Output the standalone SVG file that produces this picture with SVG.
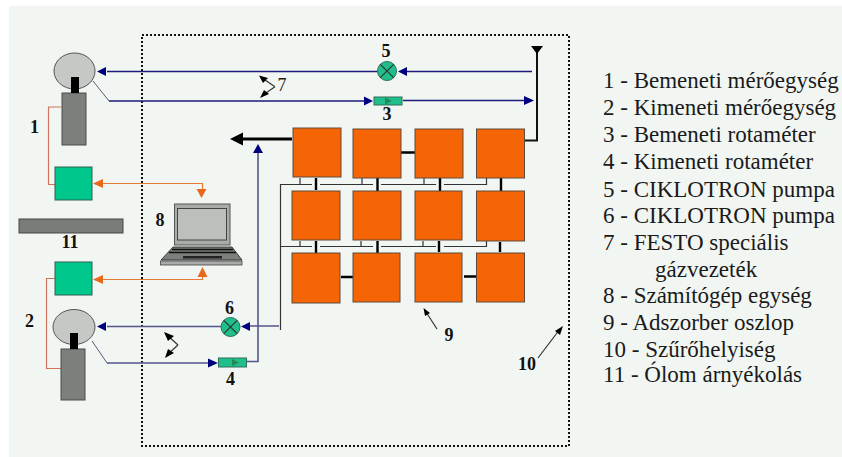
<svg xmlns="http://www.w3.org/2000/svg" width="842" height="457" viewBox="0 0 842 457">
<style>
text{font-family:"Liberation Serif","Times New Roman",serif;fill:#1a1a1a}
.n{font-size:18px;font-weight:bold;text-anchor:middle;fill:#111}
.l{font-size:23px}
.or{fill:#f56505;stroke:#5e4a3c;stroke-width:1}
.gr{fill:#00c88c;stroke:#2f5f50;stroke-width:1}
.pu{fill:#1fbf8c;stroke:#2f6f5a;stroke-width:1}
.bl{fill:none;stroke:#1c1c78;stroke-width:1.3}
.bl2{fill:none;stroke:#55558c;stroke-width:1.6}
.dg{fill:none;stroke:#5a5a78;stroke-width:1}
.og{fill:none;stroke:#e87a35;stroke-width:1.2}
.rd{fill:none;stroke:#d0755a;stroke-width:1.2}
.k{fill:none;stroke:#000;stroke-width:2.4}
.th{fill:none;stroke:#333;stroke-width:1.2}
.bh{fill:#00007e}
.oh{fill:#e8691e}
.kh{fill:#000}
.body{fill:#7d7f7d;stroke:#4a4a4a;stroke-width:1}
.blob{fill:#c6c8c6;stroke:#555;stroke-width:1}
</style>
<rect width="842" height="457" fill="#ffffff"/>
<rect x="9" y="6" width="833" height="451" fill="#f2f6f3"/>
<rect id="room" x="142" y="35" width="427" height="411" fill="none" stroke="#111" stroke-width="2" stroke-dasharray="2 2"/>
<g id="connectors">
<path class="bl" d="M107 71.500H378M402 71.500H532"/>
<path class="dg" d="M93 81L109 101"/>
<path class="bl" d="M109 101H366M403 100.500H526"/>
<path d="M537 50V140.500H524" fill="none" stroke="#111" stroke-width="2"/>
<path class="bl2" d="M258 150V361.500H247M107 326.500H221M250 326H279"/>
<path class="dg" d="M92 341L107 363"/>
<path class="bl2" d="M107 363H210"/>
<path class="og" d="M101 183.500H202.500V191M101 279.500H202.500V272"/>
<path class="rd" d="M61 107H48.500V184.500H55M55 278.500H46.500V368.500H61"/>
<path class="th" d="M280.500 330V184.500H312M320 184.500H373M381 184.500H436M444 184.500H486.500V178M300 178V184M362 178V184M424 178V184"/>
<path class="th" d="M280.500 246.500H312M320 246.500H373M381 246.500H436M444 246.500H486.500V241M300 241V246M361 241V246M423 241V246"/>
<path class="k" d="M316 178V190M377.500 178V191M440 178V191M501 178V191M316 241V253M377.500 241V253M439 241V252M500 242V252"/>
<path class="k" d="M401 152.500H415M341 277H353M464 276.500H476" />
<path d="M240 139H292" fill="none" stroke="#000" stroke-width="3"/>
<path class="th" d="M275 86.700L262 78M275 86.700L263 95M178 345L167 335M178 345L168 354M437 329L426 312M538 358L560 329"/>
</g>
<g id="arrowheads">
<path class="bh" d="M97 71.500L106 67V76Z"/><path class="bh" d="M398 71.500L407 67V76Z"/>
<path class="bh" d="M373 101L364 96.500V105.500Z"/><path class="bh" d="M534 100.500L524 96V105Z"/>
<path class="bh" d="M258 144L263 153H253Z"/><path class="bh" d="M97 326.500L106 322V331Z"/>
<path class="bh" d="M241 326.500L250 322V331Z"/><path class="bh" d="M218 363L208 358.500V367.500Z"/>
<path class="oh" d="M93 183.500L103 179V188Z"/><path class="oh" d="M201.500 198L196.500 189H206.500Z"/>
<path class="oh" d="M93 279.500L103 275V284Z"/><path class="oh" d="M202.500 267L207.500 277H197.500Z"/>
<path class="kh" d="M230 139L243 132.500V145.500Z"/>
<path class="kh" d="M531 46H543L537 54Z"/>
<path class="kh" d="M259 75.500L268 78L263 83Z"/><path class="kh" d="M260 98L264 90L269 94Z"/>
<path class="kh" d="M164 332L174 336L168 341Z"/><path class="kh" d="M165 358L168 349L174 353Z"/>
<path class="kh" d="M423.500 308L430 313L425 316Z"/><path class="kh" d="M563 326L560 335L555 331Z"/>
</g>
<g id="unit-1"><rect class="body" x="62" y="93" width="24" height="52"/><ellipse class="blob" cx="74.500" cy="71" rx="20.500" ry="18"/><rect x="71" y="77" width="8" height="16" fill="#000"/></g>
<g id="unit-2"><rect class="body" x="61" y="349" width="24" height="51"/><ellipse class="blob" cx="74" cy="327" rx="21" ry="17.500"/><rect x="70" y="333" width="8" height="16" fill="#000"/></g>
<g id="box-1"><rect class="gr" x="55" y="167" width="37" height="33"/></g>
<g id="box-2"><rect class="gr" x="55" y="262" width="37" height="33"/></g>
<g id="shield"><rect x="19" y="219" width="104" height="14" fill="#7a7c7a" stroke="#444"/></g>
<g id="pump-5"><circle class="pu" cx="387" cy="71" r="9.500"/><path class="th" d="M380.300 64.300L393.700 77.700M393.700 64.300L380.300 77.700"/></g>
<g id="pump-6"><circle class="pu" cx="230.500" cy="327" r="9.500"/><path class="th" d="M223.800 320.300L237.200 333.700M237.200 320.300L223.800 333.700"/></g>
<g id="rotameter-3"><rect class="pu" x="374" y="97" width="28" height="8" stroke="#143"/><path d="M385 97.500L392 101L385 104.500Z" fill="#285"/></g>
<g id="rotameter-4"><rect class="pu" x="218.500" y="358" width="28" height="9" stroke="#143"/><path d="M232 359L239 362.500L232 366Z" fill="#285"/></g>
<g id="laptop">
<rect x="174.500" y="204" width="55.500" height="41" fill="#a9aca9" stroke="#555"/>
<rect x="177.500" y="208.500" width="49" height="31.500" fill="#bcc0bc" stroke="#444"/>
<path d="M173 247H232L242 260H161Z" fill="#7c7f7c" stroke="#222" stroke-width="0.800"/>
<path d="M172 249.500H233M169 252.500H236" stroke="#111" stroke-width="1.600"/>
<rect x="183" y="256" width="39" height="2.500" fill="#222"/>
<rect x="160.500" y="261" width="81.500" height="4" fill="#a9aca9" stroke="#444" stroke-width="0.800"/>
</g>
<g id="columns">
<rect class="or" x="293" y="128" width="48" height="49"/><rect class="or" x="353" y="129" width="48" height="49"/><rect class="or" x="415" y="129" width="48" height="49"/><rect class="or" x="476.500" y="129" width="48" height="49"/>
<rect class="or" x="292" y="191" width="48" height="49"/><rect class="or" x="353" y="191" width="48" height="49"/><rect class="or" x="415" y="191" width="47" height="49"/><rect class="or" x="476.500" y="191" width="48" height="50"/>
<rect class="or" x="292" y="253" width="48" height="50"/><rect class="or" x="353" y="253" width="47" height="49"/><rect class="or" x="415" y="253" width="47" height="49"/><rect class="or" x="476.500" y="253" width="48" height="49"/>
</g>
<g id="labels">
<text class="n" x="34.500" y="133">1</text><text class="n" x="29.500" y="327">2</text><text class="n" x="387" y="120">3</text><text class="n" x="230.500" y="385">4</text>
<text class="n" x="386" y="57">5</text><text class="n" x="229.500" y="314">6</text><text x="282" y="91" font-size="18" text-anchor="middle">7</text>
<text class="n" x="160" y="226">8</text><text class="n" x="449" y="341">9</text><text class="n" x="527" y="370">10</text><text class="n" x="70" y="248">11</text>
</g>
<g id="legend" class="l">
<text x="603" y="88">1 - Bemeneti mérőegység</text>
<text x="603" y="115">2 - Kimeneti mérőegység</text>
<text x="603" y="142">3 - Bemeneti rotaméter</text>
<text x="603" y="169">4 - Kimeneti rotaméter</text>
<text x="603" y="196.500">5 - CIKLOTRON pumpa</text>
<text x="603" y="223">6 - CIKLOTRON pumpa</text>
<text x="603" y="250">7 - FESTO speciális</text>
<text x="655" y="276.500">gázvezeték</text>
<text x="603" y="303">8 - Számítógép egység</text>
<text x="603" y="330">9 - Adszorber oszlop</text>
<text x="603" y="356.500">10 - Szűrőhelyiség</text>
<text x="603" y="382">11 - Ólom árnyékolás</text>
</g>
</svg>
